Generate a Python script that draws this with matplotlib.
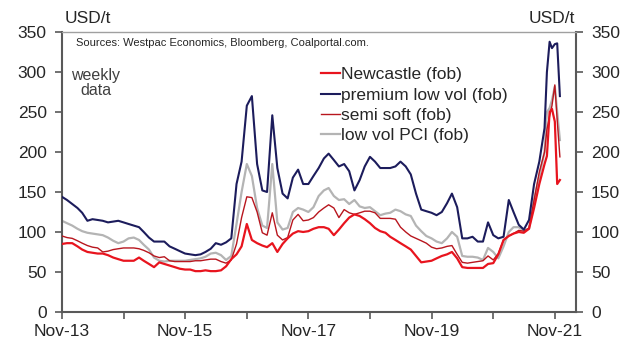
import matplotlib
matplotlib.use("Agg")
import matplotlib.pyplot as plt
import pandas as pd

plt.rcParams['font.family'] = ['Liberation Sans', 'DejaVu Sans']

# Month-start dates to Aug-21, then half-monthly through the 2021 spike
month_dates = pd.date_range('2013-11-01', '2021-08-01', freq='MS')
late_dates = pd.to_datetime(['2021-09-01', '2021-09-15', '2021-10-01', '2021-10-15',
                             '2021-11-01', '2021-11-15', '2021-12-01'])
dates = month_dates.append(late_dates)

# USD/t, fob
newcastle = [85, 86, 86, 82, 78, 75, 74, 73, 73, 71, 68, 66, 64, 64, 64, 68, 64, 60, 56, 62,
             60, 58, 56, 54, 53, 53, 51, 51, 52, 51, 51, 52, 57, 66, 72, 82, 110, 90, 86, 83,
             81, 86, 75, 85, 92, 98, 101, 100, 101, 104, 106, 106, 104, 96, 103, 111, 118, 122, 120, 116,
             111, 105, 101, 99, 94, 90, 86, 82, 78, 70, 62, 63, 64, 67, 70, 72, 75, 67, 56, 55,
             55, 55, 55, 60, 61, 72, 90, 95, 98, 100, 99, 104, 130, 160,
             185, 195, 250, 254, 238, 160, 165]
premium_low_vol = [144, 140, 135, 130, 124, 114, 116, 115, 114, 112, 113, 114, 112, 110, 108, 106, 100, 93, 88, 88,
                   88, 82, 79, 76, 73, 72, 71, 72, 75, 79, 86, 84, 87, 92, 160, 188, 258, 270, 185, 152,
                   150, 246, 180, 148, 142, 168, 178, 160, 160, 170, 180, 192, 198, 190, 182, 185, 176, 152, 165, 182,
                   194, 188, 180, 180, 180, 182, 188, 182, 172, 148, 128, 126, 124, 121, 125, 136, 148, 131, 92, 92,
                   94, 88, 88, 112, 96, 92, 94, 140, 125, 109, 103, 115, 160, 188,
                   230, 300, 338, 330, 335, 336, 270]
semi_soft = [95, 93, 92, 89, 86, 83, 81, 80, 75, 76, 78, 79, 80, 80, 80, 79, 77, 74, 70, 68,
             69, 64, 63, 63, 63, 63, 64, 64, 65, 66, 66, 63, 61, 65, 85, 118, 144, 143, 125, 99,
             96, 124, 96, 90, 93, 115, 122, 114, 115, 118, 125, 130, 134, 130, 118, 128, 124, 122, 124, 126,
             126, 124, 117, 117, 117, 116, 106, 100, 95, 92, 89, 86, 81, 79, 80, 82, 83, 72, 62, 61,
             62, 63, 64, 70, 65, 73, 90, 95, 98, 102, 101, 105, 140, 175,
             200, 228, 245, 258, 284, 240, 194]
low_vol_pci = [114, 111, 108, 104, 101, 99, 98, 97, 96, 93, 89, 86, 88, 92, 93, 90, 84, 78, 68, 64,
               63, 64, 64, 64, 64, 65, 66, 67, 69, 73, 74, 71, 65, 70, 110, 150, 185, 170, 130, 108,
               105, 185, 112, 103, 105, 125, 130, 128, 125, 131, 145, 152, 155, 145, 140, 141, 135, 140, 132, 130,
               131, 126, 121, 123, 124, 128, 126, 122, 120, 108, 101, 95, 92, 88, 86, 92, 100, 94, 70, 69,
               69, 68, 65, 80, 75, 67, 82, 100, 106, 106, 102, 104, 140, 170,
               200, 250, 255, 265, 282, 250, 215]

tick_years = list(range(2013, 2022))
text_col = '#262626'
spine_col = '#595959'

fig = plt.figure(figsize=(6.32, 3.42), dpi=100)
ax = fig.add_axes([0.098, 0.088, 0.813, 0.818])

ax.plot(dates, low_vol_pci, color='#B4B4B4', lw=1.6, label='low vol PCI (fob)', zorder=2)
ax.plot(dates, semi_soft, color='#B8161E', lw=1.0, label='semi soft (fob)', zorder=3)
ax.plot(dates, premium_low_vol, color='#1C1C5C', lw=1.5, label='premium low vol (fob)', zorder=4)
ax.plot(dates, newcastle, color='#E8141E', lw=1.6, label='Newcastle (fob)', zorder=5)

ax.set_ylim(0, 350)
ax.set_yticks(range(0, 351, 50))
ax.set_xlim(pd.Timestamp('2013-11-01'), pd.Timestamp('2022-03-05'))

# yearly ticks, labelled every second year
xt = [pd.Timestamp(f'{y}-11-01') for y in tick_years]
ax.set_xticks(xt)
ax.set_xticklabels([d.strftime('Nov-%y') if (d.year - 2013) % 2 == 0 else '' for d in xt])

ax.tick_params(axis='both', direction='out', length=5, width=1.2, color=spine_col,
               labelsize=12.5, labelcolor=text_col)
ax.tick_params(axis='y', pad=6, right=True, labelright=True)
ax.tick_params(axis='x', pad=4)

for side in ['left', 'right', 'bottom']:
    ax.spines[side].set_color(spine_col)
    ax.spines[side].set_linewidth(1.5)
ax.spines['top'].set_color('#A0A0A0')
ax.spines['top'].set_linewidth(1.0)

fig.text(0.103, 0.945, 'USD/t', fontsize=12.5, color=text_col, va='center', ha='left')
fig.text(0.91, 0.945, 'USD/t', fontsize=12.5, color=text_col, va='center', ha='right')
ax.text(0.027, 0.96, 'Sources: Westpac Economics, Bloomberg, Coalportal.com.',
        transform=ax.transAxes, fontsize=8, color=text_col, va='center', ha='left')
ax.text(0.066, 0.82, 'weekly\ndata', transform=ax.transAxes, fontsize=11.5, color='#404040',
        va='center', ha='center', linespacing=1.0)

handles, labels = ax.get_legend_handles_labels()
order = [3, 2, 1, 0]
leg = ax.legend([handles[i] for i in order], [labels[i] for i in order],
                loc='upper left', bbox_to_anchor=(0.49, 0.90), frameon=False,
                fontsize=12.5, handlelength=1.1, handletextpad=0.1,
                labelspacing=0.3, borderaxespad=0)
for t in leg.get_texts():
    t.set_color(text_col)

fig.savefig('out.png', dpi=100)
